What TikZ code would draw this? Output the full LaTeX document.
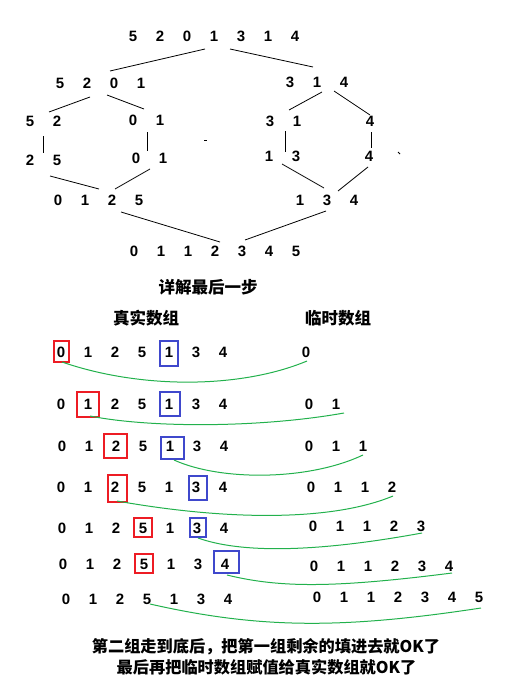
\documentclass[tikz,border=0pt]{standalone}
\usepackage{fontspec}
\setmainfont{Liberation Sans}
\newfontfamily\cjk{Noto Sans CJK SC}
\definecolor{hong}{RGB}{237,28,36}
\definecolor{lan}{RGB}{63,72,204}
\definecolor{lv}{RGB}{34,177,76}
\begin{document}
\begin{tikzpicture}[x=1pt,y=-1pt,
	num/.style={font=\fontsize{15}{18}\selectfont\bfseries, inner sep=1pt},
	zi/.style={font=\cjk\bfseries\fontsize{16.5}{20}\selectfont, inner sep=0pt},
	hkuang/.style={draw=hong, line width=1.2pt, inner sep=0pt},
	lkuang/.style={draw=lan, line width=1.2pt, inner sep=0pt},
	lvxian/.style={draw=lv, line width=1pt},
	xian/.style={draw=black, line width=0.8pt}]
	\def\DX{27}
	\useasboundingbox (0,0) rectangle (512,696);
	%上半部分：归并的拆分与合并
	\foreach \d [count=\i] in {5,2,0,1,3,1,4}
		\node [num] (a-\i) at ({133+\DX*(\i-1)},36) {\d};
	\foreach \d [count=\i] in {5,2,0,1}
		\node [num] (bl-\i) at ({60+\DX*(\i-1)},83) {\d};
	\foreach \d [count=\i] in {3,1,4}
		\node [num] (br-\i) at ({290+\DX*(\i-1)},82) {\d};
	\foreach \d [count=\i] in {5,2}
		\node [num] (cl-\i) at ({30+\DX*(\i-1)},121) {\d};
	\foreach \d [count=\i] in {0,1}
		\node [num] (cm-\i) at ({133+\DX*(\i-1)},120) {\d};
	\foreach \d [count=\i] in {3,1}
		\node [num] (cr-\i) at ({270+\DX*(\i-1)},121) {\d};
	\node [num] (cq) at (370,121) {4};
	\foreach \d [count=\i] in {2,5}
		\node [num] (dl-\i) at ({30+\DX*(\i-1)},160) {\d};
	\foreach \d [count=\i] in {0,1}
		\node [num] (dm-\i) at ({136+\DX*(\i-1)},158) {\d};
	\foreach \d [count=\i] in {1,3}
		\node [num] (dr-\i) at ({269+\DX*(\i-1)},156) {\d};
	\node [num] (dq) at (369,156) {4};
	\foreach \d [count=\i] in {0,1,2,5}
		\node [num] (el-\i) at ({58+\DX*(\i-1)},200) {\d};
	\foreach \d [count=\i] in {1,3,4}
		\node [num] (er-\i) at ({300+\DX*(\i-1)},200) {\d};
	\foreach \d [count=\i] in {0,1,1,2,3,4,5}
		\node [num] (f-\i) at ({134+\DX*(\i-1)},251) {\d};
	
	%连线
	\draw [xian] ([shift={(-9,13)}]a-4.center) -- ([shift={(-4,-12)}]bl-3.center);
	\draw [xian] ([shift={(-11,13)}]a-5.center) -- ([shift={(-4,-15)}]br-2.center);
	\draw [xian] ([shift={(3,14)}]bl-2.center) -- ([shift={(-8,-9)}]cl-2.center);
	\draw [xian] ([shift={(-7,12)}]bl-3.center) -- ([shift={(11,-11)}]cm-1.center);
	\draw [xian] ([shift={(13,15)}]cl-1.center) -- ([shift={(13,-7)}]dl-1.center);
	\draw [xian] ([shift={(14,12)}]cm-1.center) -- ([shift={(11,-7)}]dm-1.center);
	\draw [xian] ([shift={(20,16)}]dl-1.center) -- ([shift={(-13,-11)}]el-3.center);
	\draw [xian] ([shift={(-13,11)}]dm-2.center) -- ([shift={(3,-11)}]el-3.center);
	\draw [xian] ([shift={(9,12)}]el-3.center) -- ([shift={(5,-9)}]f-4.center);
	\draw [xian] ([shift={(5,10)}]br-2.center) -- ([shift={(19,-11)}]cr-1.center);
	\draw [xian] ([shift={(17,9)}]br-2.center) -- ([shift={(0,-6)}]cq.center);
	\draw [xian] ([shift={(15,10)}]cr-1.center) -- ([shift={(16,-4)}]dr-1.center);
	\draw [xian] ([shift={(1,11)}]cq.center) -- ([shift={(2,-8)}]dq.center);
	\draw [xian] ([shift={(13,8)}]dr-1.center) -- ([shift={(-3,-12)}]er-2.center);
	\draw [xian] ([shift={(-1,11)}]dq.center) -- ([shift={(11,-9)}]er-2.center);
	\draw [xian] ([shift={(-1,11)}]er-2.center) -- ([shift={(3,-11)}]f-5.center);
	%两处小杂点
	\draw [xian] (204,140) -- (207,140);
	\draw [xian] (398,152) -- (400,154);
	
	%标题
	\node [zi] (biaoti) at (208,287) {详解最后一步};
	\node [zi] (zhen) at (146,318) {真实数组};
	\node [zi] (lin) at (338,318) {临时数组};
	
	%真实数组的每一步
	\foreach \r/\x/\y in {A/61/352, B/61/404, C/62/446, D/61/487, E/62/528, F/63/564, G/66/599}
		\foreach \d [count=\i] in {0,1,2,5,1,3,4}
			\node [num] (\r-\i) at ({\x+\DX*(\i-1)},\y) {\d};
	%临时数组的每一步
	\foreach \r/\x/\y/\n in {A/306/352/1, B/309/404/2, C/309/446/3, D/311/487/4, E/313/526/5, F/314/566/6, G/317/597/7}
		\foreach \d [count=\i] in {0,1,1,2,3,4,5}
			{\ifnum\i>\n\else
				\node [num] (t\r-\i) at ({\x+\DX*(\i-1)},\y) {\d};
			\fi}
	
	%红框和蓝框
	\node [hkuang, minimum width=15pt, minimum height=21pt] (kA-h) at ([shift={(0.5,-0.5)}]A-1.center) {};
	\node [lkuang, minimum width=18pt, minimum height=25pt] (kA-l) at ([shift={(0,1.5)}]A-5.center) {};
	\node [hkuang, minimum width=22pt, minimum height=25pt] (kB-h) at ([shift={(0,0.5)}]B-2.center) {};
	\node [lkuang, minimum width=20pt, minimum height=24pt] (kB-l) at ([shift={(1,0)}]B-5.center) {};
	\node [hkuang, minimum width=23pt, minimum height=24pt] (kC-h) at ([shift={(-0.5,0)}]C-3.center) {};
	\node [lkuang, minimum width=23pt, minimum height=22pt] (kC-l) at ([shift={(2.5,2)}]C-5.center) {};
	\node [hkuang, minimum width=19pt, minimum height=27pt] (kD-h) at ([shift={(2.5,1.5)}]D-3.center) {};
	\node [lkuang, minimum width=18pt, minimum height=24pt] (kD-l) at ([shift={(2,1)}]D-6.center) {};
	\node [hkuang, minimum width=18pt, minimum height=19pt] (kE-h) at ([shift={(0,-0.5)}]E-4.center) {};
	\node [lkuang, minimum width=16pt, minimum height=19pt] (kE-l) at ([shift={(1,-0.5)}]E-6.center) {};
	\node [hkuang, minimum width=18pt, minimum height=19pt] (kF-h) at ([shift={(0,-0.5)}]F-4.center) {};
	\node [lkuang, minimum width=25pt, minimum height=22pt] (kF-l) at ([shift={(1.5,-2)}]F-7.center) {};
	
	%绿线：把较小的数放进临时数组
	\draw [lvxian] ([shift={(1,10)}]A-1.center) .. controls +(78,27) and +(-67,28) .. ([shift={(1,9)}]tA-1.center);
	\draw [lvxian] ([shift={(2,12)}]B-2.center) .. controls +(60,12) and +(-84,15) .. ([shift={(8,9)}]tB-2.center);
	\draw [lvxian] ([shift={(4,14)}]C-5.center) .. controls +(46,21) and +(-55,26) .. ([shift={(0,9)}]tC-3.center);
	\draw [lvxian] ([shift={(2,14)}]D-3.center) .. controls +(113,20) and +(-60,25) .. ([shift={(1,9)}]tD-4.center);
	\draw [lvxian] ([shift={(1,10)}]E-6.center) .. controls +(42,15) and +(-109,20) .. ([shift={(1,7)}]tE-5.center);
	\draw [lvxian] ([shift={(2,11)}]F-7.center) .. controls +(53,13) and +(-118,15) .. ([shift={(3,7)}]tF-6.center);
	\draw [lvxian] ([shift={(3,5)}]G-4.center) .. controls +(110,25) and +(-138,21) .. ([shift={(2,11)}]tG-7.center);
	
	%底部说明
	\node [zi, font=\cjk\bfseries\fontsize{16.2}{20}\selectfont] (shuo1) at (266,647) {第二组走到底后，把第一组剩余的填进去就OK了};
	\node [zi, font=\cjk\bfseries\fontsize{16.2}{20}\selectfont] (shuo2) at (266.5,667) {最后再把临时数组赋值给真实数组就OK了};
\end{tikzpicture}
\end{document}
